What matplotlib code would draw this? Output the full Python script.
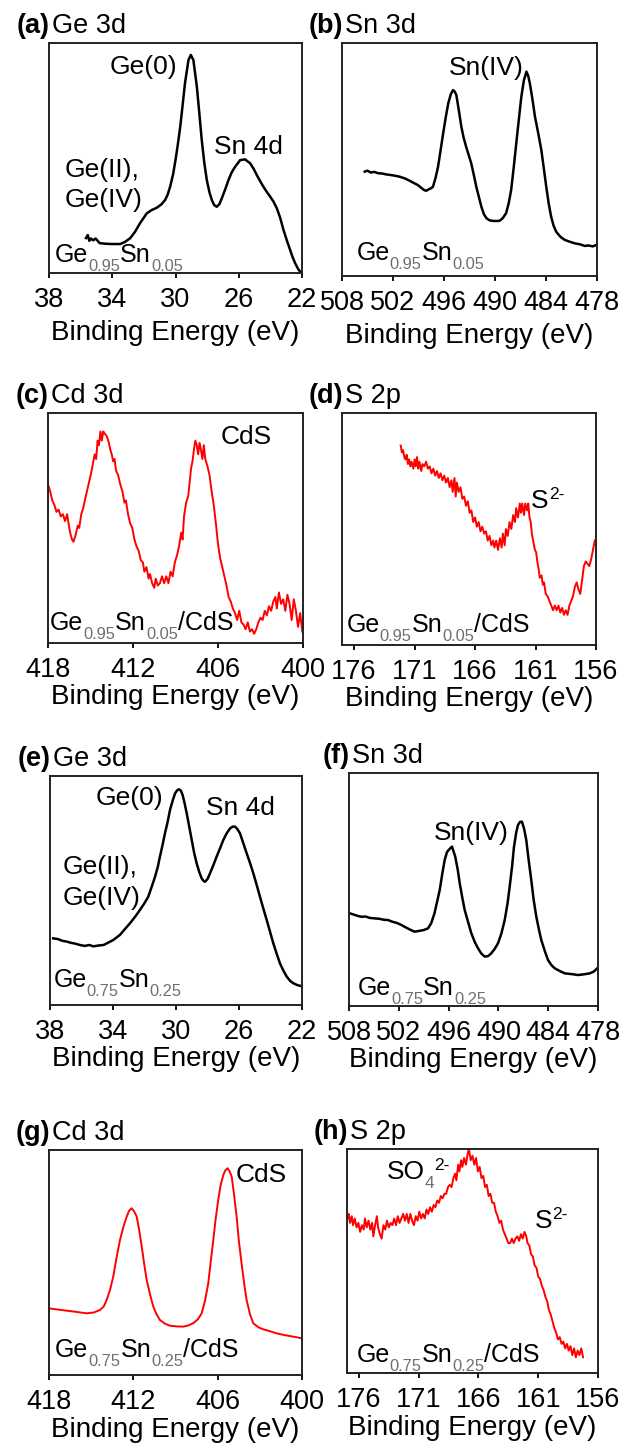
import matplotlib
matplotlib.use("Agg")
import matplotlib.pyplot as plt
import matplotlib.transforms as mtransforms

plt.rcParams['font.family'] = ['Liberation Sans', 'DejaVu Sans']

# XPS spectra: binding energy (eV) and normalised intensity (fraction of the frame height)
a_be = [35.66, 35.55, 35.45, 35.35, 35.2, 35.05, 34.8, 34.4, 34.0, 33.5, 33.2, 32.87, 32.55, 32.24,
        31.82, 31.5, 31.2, 30.9, 30.66, 30.5, 30.34, 30.15, 30.0, 29.85, 29.7, 29.55, 29.4, 29.18,
        29.03, 28.87, 28.65, 28.5, 28.34, 28.18, 28.02, 27.85, 27.7, 27.55, 27.39, 27.22, 27.07,
        26.85, 26.65, 26.45, 26.23, 25.91, 25.6, 25.28, 25.05, 24.86, 24.65, 24.44, 24.22, 24.01,
        23.8, 23.59, 23.38, 23.17, 22.95, 22.75, 22.6, 22.43, 22.25, 22.05]
a_int = [0.152, 0.165, 0.14, 0.15, 0.142, 0.15, 0.13, 0.127, 0.126, 0.126, 0.135, 0.151, 0.18, 0.217,
         0.259, 0.274, 0.283, 0.298, 0.317, 0.34, 0.375, 0.43, 0.491, 0.56, 0.636, 0.73, 0.825, 0.926,
         0.948, 0.926, 0.81, 0.70, 0.578, 0.48, 0.404, 0.35, 0.317, 0.295, 0.288, 0.30, 0.325,
         0.365, 0.404, 0.437, 0.462, 0.491, 0.494, 0.477, 0.452, 0.426, 0.40, 0.375, 0.352, 0.332,
         0.31, 0.281, 0.24, 0.187, 0.14, 0.10, 0.07, 0.042, 0.018, 0.0]

b_be = [505.33, 505.0, 504.6, 504.2, 503.76, 503.3, 502.8, 502.2, 501.7, 501.2, 500.62, 500.1, 499.6,
        499.06, 498.6, 498.3, 498.08, 497.8, 497.55, 497.3, 497.0, 496.7, 496.4, 496.1, 495.8, 495.5,
        495.2, 494.94, 494.75, 494.55, 494.25, 493.96, 493.7, 493.4, 493.1, 492.8, 492.5, 492.2,
        491.9, 491.6, 491.3, 491.0, 490.7, 490.4, 489.9, 489.45, 489.1, 488.7, 488.4, 488.1, 487.8,
        487.5, 487.2, 486.9, 486.6, 486.3, 486.1, 485.9, 485.6, 485.3, 484.9, 484.55, 484.25, 483.97,
        483.7, 483.4, 483.1, 482.8, 482.3, 481.8, 481.2, 480.6, 480.0, 479.45, 479.0, 478.5, 478.1]
b_int = [0.448, 0.452, 0.444, 0.447, 0.441, 0.440, 0.436, 0.433, 0.430, 0.426, 0.419, 0.41, 0.40,
         0.39, 0.376, 0.368, 0.366, 0.372, 0.376, 0.383, 0.42, 0.469, 0.54, 0.612, 0.68, 0.741,
         0.78, 0.798, 0.792, 0.777, 0.71, 0.641, 0.595, 0.555, 0.52, 0.484, 0.435, 0.383,
         0.34, 0.297, 0.265, 0.248, 0.24, 0.237, 0.236, 0.237, 0.248, 0.269, 0.31, 0.369, 0.465,
         0.569, 0.67, 0.77, 0.84, 0.877, 0.86, 0.827, 0.76, 0.684, 0.61, 0.541, 0.46, 0.383,
         0.315, 0.255, 0.215, 0.19, 0.168, 0.155, 0.147, 0.14, 0.136, 0.129, 0.131, 0.127, 0.133]

c_be = [418.0, 417.85, 417.7, 417.55, 417.4, 417.25, 417.1, 416.95, 416.8, 416.65, 416.5, 416.4, 416.3,
        416.2, 416.05, 415.9, 415.8, 415.65, 415.5, 415.4, 415.25, 415.1, 414.95, 414.8, 414.7, 414.6,
        414.5, 414.4, 414.3, 414.2, 414.1, 414.0, 413.85, 413.7, 413.6, 413.5, 413.4, 413.3, 413.2,
        413.05, 412.9, 412.75, 412.6, 412.5, 412.35, 412.2, 412.05, 411.9, 411.75, 411.6, 411.45,
        411.3, 411.2, 411.05, 410.9, 410.8, 410.65, 410.5, 410.4, 410.25, 410.1, 409.95, 409.8,
        409.65, 409.5, 409.35, 409.2, 409.05, 408.9, 408.75, 408.6, 408.5, 408.4, 408.25, 408.1,
        408.0, 407.9, 407.8, 407.7, 407.6, 407.5, 407.4, 407.3, 407.2, 407.1, 407.0, 406.9, 406.75,
        406.6, 406.45, 406.3, 406.15, 406.0, 405.85, 405.7, 405.55, 405.4, 405.25, 405.1, 404.95,
        404.8, 404.65, 404.5, 404.35, 404.2, 404.05, 403.9, 403.75, 403.6, 403.45, 403.3, 403.15,
        403.0, 402.85, 402.7, 402.55, 402.4, 402.25, 402.1, 401.95, 401.85, 401.7, 401.55, 401.4,
        401.25, 401.1, 400.95, 400.8, 400.65, 400.5, 400.35, 400.2, 400.05]
c_int = [0.69, 0.66, 0.62, 0.60, 0.57, 0.58, 0.55, 0.56, 0.53, 0.56, 0.50, 0.47, 0.45,
         0.44, 0.47, 0.51, 0.50, 0.56, 0.59, 0.62, 0.66, 0.70, 0.74, 0.79, 0.82, 0.80,
         0.88, 0.86, 0.92, 0.88, 0.92, 0.91, 0.90, 0.87, 0.84, 0.82, 0.79, 0.80, 0.75,
         0.73, 0.69, 0.66, 0.61, 0.62, 0.56, 0.52, 0.50, 0.45, 0.42, 0.40, 0.36,
         0.35, 0.31, 0.33, 0.28, 0.30, 0.26, 0.24, 0.28, 0.25, 0.26, 0.29, 0.26,
         0.29, 0.26, 0.31, 0.29, 0.35, 0.38, 0.42, 0.48, 0.45, 0.55, 0.61, 0.64,
         0.70, 0.76, 0.79, 0.84, 0.88, 0.86, 0.82, 0.87, 0.84, 0.80, 0.86, 0.80, 0.77,
         0.73, 0.66, 0.60, 0.52, 0.43, 0.37, 0.33, 0.29, 0.25, 0.20, 0.18, 0.15,
         0.13, 0.10, 0.14, 0.09, 0.08, 0.06, 0.09, 0.05, 0.06, 0.04, 0.06, 0.09,
         0.11, 0.10, 0.14, 0.12, 0.16, 0.14, 0.18, 0.20, 0.15, 0.22, 0.17, 0.19,
         0.14, 0.21, 0.17, 0.10, 0.19, 0.14, 0.07, 0.13, 0.05]

d_be = [172.15, 172.05, 171.95, 171.85, 171.75, 171.65, 171.55, 171.45, 171.35, 171.25, 171.1, 171.0,
        170.9, 170.8, 170.7, 170.6, 170.45, 170.35, 170.2, 170.05, 169.9, 169.75, 169.6, 169.45,
        169.3, 169.15, 169.0, 168.85, 168.7, 168.55, 168.4, 168.25, 168.1, 167.95, 167.85, 167.7,
        167.6, 167.5, 167.35, 167.2, 167.05, 166.9, 166.75, 166.6, 166.45, 166.3, 166.15, 166.0,
        165.85, 165.7, 165.55, 165.4, 165.25, 165.1, 164.95, 164.8, 164.65, 164.5, 164.4, 164.25,
        164.1, 163.95, 163.8, 163.7, 163.55, 163.45, 163.3, 163.15, 163.0, 162.85, 162.7, 162.6,
        162.45, 162.3, 162.2, 162.1, 161.95, 161.85, 161.7, 161.6, 161.5, 161.4, 161.3, 161.2,
        161.05, 160.95, 160.85, 160.75, 160.65, 160.5, 160.4, 160.3, 160.15, 160.0, 159.85, 159.7,
        159.55, 159.4, 159.25, 159.1, 158.95, 158.8, 158.65, 158.5, 158.35, 158.2, 158.05, 157.9,
        157.75, 157.6, 157.45, 157.3, 157.15, 157.0, 156.85, 156.7, 156.55, 156.4, 156.25, 156.1]
d_int = [0.86, 0.83, 0.84, 0.81, 0.80, 0.82, 0.78, 0.80, 0.77, 0.79, 0.76, 0.80,
         0.77, 0.81, 0.76, 0.79, 0.75, 0.78, 0.77, 0.79, 0.76, 0.77, 0.74, 0.76,
         0.73, 0.75, 0.72, 0.74, 0.71, 0.73, 0.70, 0.72, 0.68, 0.71, 0.66, 0.72,
         0.64, 0.70, 0.66, 0.68, 0.63, 0.64, 0.60, 0.62, 0.57, 0.58, 0.53, 0.55,
         0.51, 0.53, 0.49, 0.51, 0.48, 0.49, 0.45, 0.47, 0.43, 0.45, 0.42, 0.45,
         0.41, 0.46, 0.42, 0.48, 0.43, 0.50, 0.47, 0.53, 0.50, 0.56, 0.53, 0.59,
         0.55, 0.61, 0.57, 0.61, 0.56, 0.61, 0.58, 0.61, 0.55, 0.53, 0.48, 0.45,
         0.41, 0.40, 0.36, 0.33, 0.29, 0.30, 0.26, 0.27, 0.22, 0.21, 0.19, 0.17,
         0.15, 0.17, 0.15, 0.17, 0.14, 0.16, 0.13, 0.15, 0.13, 0.17, 0.19, 0.21,
         0.25, 0.27, 0.24, 0.22, 0.28, 0.34, 0.36, 0.35, 0.34, 0.37, 0.41, 0.45]

e_be = [37.8, 37.5, 37.2, 36.94, 36.7, 36.4, 36.1, 35.8, 35.5, 35.25, 34.9, 34.6, 34.4, 34.0, 33.56,
        33.2, 32.92, 32.6, 32.29, 32.0, 31.76, 31.55, 31.33, 31.15, 31.02, 30.85, 30.7, 30.53, 30.38,
        30.2, 30.06, 29.92, 29.81, 29.68, 29.58, 29.45, 29.32, 29.15, 29.0, 28.85, 28.69, 28.52,
        28.37, 28.25, 28.16, 28.0, 27.84, 27.62, 27.42, 27.2, 27.0, 26.78, 26.57, 26.4, 26.25, 26.1,
        25.94, 25.72, 25.51, 25.3, 25.09, 24.88, 24.67, 24.45, 24.24, 24.03, 23.82, 23.6, 23.4,
        23.18, 22.97, 22.75, 22.55, 22.3, 22.08]
e_int = [0.291, 0.288, 0.280, 0.277, 0.272, 0.268, 0.262, 0.258, 0.262, 0.256, 0.260, 0.262, 0.269,
         0.283, 0.306, 0.335, 0.357, 0.385, 0.415, 0.445, 0.473, 0.515, 0.56, 0.605, 0.648, 0.70,
         0.75, 0.80, 0.852, 0.895, 0.924, 0.938, 0.942, 0.935, 0.917, 0.88, 0.837, 0.775, 0.72,
         0.665, 0.619, 0.58, 0.553, 0.542, 0.538, 0.550, 0.575, 0.612, 0.648, 0.685, 0.72, 0.75,
         0.771, 0.779, 0.779, 0.768, 0.75, 0.705, 0.662, 0.62, 0.575, 0.525, 0.473, 0.42, 0.371,
         0.32, 0.269, 0.222, 0.182, 0.15, 0.124, 0.105, 0.095, 0.087, 0.083]

f_be = [507.92, 507.4, 506.9, 506.5, 506.0, 505.5, 504.9, 504.3, 503.8, 503.3, 502.8, 502.2, 501.7,
        501.2, 500.6, 500.1, 499.6, 499.0, 498.48, 498.1, 497.7, 497.4, 497.07, 496.75, 496.47,
        496.2, 495.99, 495.59, 495.2, 494.9, 494.66, 494.35, 494.06, 493.65, 493.26, 492.85, 492.46,
        492.05, 491.65, 491.25, 490.86, 490.45, 490.05, 489.65, 489.24, 488.9, 488.64, 488.35,
        488.12, 487.85, 487.64, 487.4, 487.16, 486.9, 486.64, 486.35, 486.04, 485.75, 485.43,
        485.1, 484.83, 484.4, 484.02, 483.6, 483.22, 482.6, 482.0, 481.2, 480.4, 479.7, 479.0,
        478.5, 478.08]
f_int = [0.398, 0.392, 0.386, 0.383, 0.384, 0.378, 0.376, 0.374, 0.37, 0.369, 0.362, 0.356, 0.348,
         0.338, 0.327, 0.319, 0.322, 0.326, 0.333, 0.355, 0.398, 0.445, 0.498, 0.57, 0.627,
         0.66, 0.67, 0.684, 0.641, 0.585, 0.527, 0.465, 0.412, 0.36, 0.312, 0.275, 0.248,
         0.225, 0.212, 0.214, 0.226, 0.245, 0.269, 0.31, 0.369, 0.44, 0.512, 0.60,
         0.684, 0.745, 0.777, 0.79, 0.791, 0.76, 0.712, 0.625, 0.541, 0.455, 0.383,
         0.325, 0.283, 0.235, 0.197, 0.175, 0.162, 0.15, 0.14, 0.137, 0.133, 0.136, 0.14,
         0.148, 0.162]

g_be = [417.98, 417.4, 416.74, 416.0, 415.32, 414.8, 414.37, 414.1, 413.9, 413.65, 413.43, 413.2,
        412.95, 412.7, 412.47, 412.3, 412.12, 411.95, 411.76, 411.6, 411.4, 411.22, 411.05, 410.8,
        410.58, 410.35, 410.1, 409.75, 409.4, 408.9, 408.45, 408.1, 407.74, 407.4, 407.14, 406.9,
        406.67, 406.5, 406.31, 406.15, 405.96, 405.8, 405.6, 405.45, 405.29, 405.15, 405.0, 404.85,
        404.65, 404.5, 404.3, 404.1, 403.94, 403.7, 403.47, 403.1, 402.76, 402.3, 401.8, 401.3,
        400.86, 400.4, 400.03]
g_int = [0.296, 0.291, 0.286, 0.28, 0.274, 0.278, 0.289, 0.305, 0.333, 0.38, 0.437, 0.52,
         0.60, 0.66, 0.704, 0.73, 0.741, 0.728, 0.704, 0.65, 0.57, 0.49, 0.422, 0.355,
         0.304, 0.27, 0.244, 0.228, 0.219, 0.216, 0.215, 0.22, 0.23, 0.248, 0.274, 0.33,
         0.407, 0.50, 0.60, 0.69, 0.778, 0.84, 0.889, 0.91, 0.919, 0.905, 0.881, 0.81,
         0.704, 0.60, 0.496, 0.40, 0.333, 0.27, 0.23, 0.212, 0.203, 0.195, 0.185, 0.178,
         0.173, 0.168, 0.163]

h_be = [176.95, 176.85, 176.75, 176.6, 176.5, 176.35, 176.2, 176.05, 175.9, 175.75, 175.6, 175.5,
        175.35, 175.2, 175.05, 174.9, 174.8, 174.65, 174.5, 174.4, 174.25, 174.1, 173.95, 173.8,
        173.65, 173.5, 173.35, 173.2, 173.05, 172.9, 172.75, 172.6, 172.45, 172.3, 172.15, 172.0,
        171.85, 171.7, 171.55, 171.4, 171.25, 171.1, 170.95, 170.8, 170.65, 170.5, 170.35, 170.2,
        170.05, 169.9, 169.75, 169.6, 169.45, 169.3, 169.15, 169.0, 168.85, 168.7, 168.55, 168.4,
        168.25, 168.1, 167.95, 167.85, 167.7, 167.6, 167.45, 167.35, 167.2, 167.05, 166.9, 166.8,
        166.65, 166.5, 166.35, 166.2, 166.05, 165.9, 165.75, 165.6, 165.45, 165.3, 165.15, 165.0,
        164.85, 164.7, 164.55, 164.4, 164.25, 164.1, 163.95, 163.8, 163.65, 163.5, 163.35, 163.2,
        163.05, 162.9, 162.75, 162.6, 162.45, 162.3, 162.15, 162.0, 161.9, 161.75, 161.6, 161.45,
        161.3, 161.15, 161.0, 160.85, 160.7, 160.55, 160.4, 160.25, 160.1, 159.95, 159.8, 159.65,
        159.5, 159.35, 159.2, 159.05, 158.9, 158.75, 158.6, 158.45, 158.3, 158.15, 158.0, 157.85,
        157.7, 157.55, 157.4, 157.25]
h_int = [0.69, 0.71, 0.67, 0.70, 0.66, 0.69, 0.65, 0.67, 0.63, 0.66, 0.64, 0.69,
         0.65, 0.68, 0.64, 0.67, 0.61, 0.66, 0.70, 0.65, 0.62, 0.60, 0.66, 0.64,
         0.68, 0.65, 0.67, 0.66, 0.69, 0.66, 0.70, 0.67, 0.69, 0.71, 0.68, 0.71,
         0.67, 0.71, 0.68, 0.66, 0.70, 0.68, 0.72, 0.69, 0.71, 0.69, 0.73, 0.71,
         0.74, 0.72, 0.75, 0.74, 0.77, 0.76, 0.79, 0.78, 0.80, 0.80, 0.83, 0.84,
         0.83, 0.87, 0.89, 0.86, 0.93, 0.90, 0.95, 0.92, 0.96, 0.93, 0.98, 1.0,
         0.95, 0.97, 0.93, 0.96, 0.90, 0.92, 0.87, 0.88, 0.83, 0.84, 0.79, 0.80,
         0.76, 0.76, 0.72, 0.70, 0.67, 0.68, 0.64, 0.62, 0.60, 0.58, 0.58, 0.60,
         0.58, 0.60, 0.61, 0.59, 0.62, 0.60, 0.63, 0.61, 0.58, 0.57, 0.53, 0.52,
         0.48, 0.47, 0.43, 0.42, 0.39, 0.37, 0.34, 0.32, 0.28, 0.26, 0.23, 0.20,
         0.18, 0.15, 0.16, 0.13, 0.14, 0.11, 0.13, 0.10, 0.12, 0.08, 0.11, 0.07,
         0.10, 0.08, 0.11, 0.07]

panel_tags = ['(a)', '(b)', '(c)', '(d)', '(e)', '(f)', '(g)', '(h)']
core_levels = ['Ge 3d', 'Sn 3d', 'Cd 3d', 'S 2p', 'Ge 3d', 'Sn 3d', 'Cd 3d', 'S 2p']
xlims = [(38, 22), (508, 478), (418, 400), (177, 156),
         (38, 22), (508, 478), (418, 400), (177, 156)]
xticks = [[38, 34, 30, 26, 22], [508, 502, 496, 490, 484, 478], [418, 412, 406, 400],
          [176, 171, 166, 161, 156], [38, 34, 30, 26, 22], [508, 502, 496, 490, 484, 478],
          [418, 412, 406, 400], [176, 171, 166, 161, 156]]
spectra = [(a_be, a_int), (b_be, b_int), (c_be, c_int), (d_be, d_int),
           (e_be, e_int), (f_be, f_int), (g_be, g_int), (h_be, h_int)]
line_colors = ['black', 'black', 'red', 'red', 'black', 'black', 'red', 'red']

film_05 = [('Ge', 'n'), ('0.95', 'sub'), ('Sn', 'n'), ('0.05', 'sub')]
film_25 = [('Ge', 'n'), ('0.75', 'sub'), ('Sn', 'n'), ('0.25', 'sub')]
samples = [film_05, film_05, film_05 + [('/CdS', 'n')], film_05 + [('/CdS', 'n')],
           film_25, film_25, film_25 + [('/CdS', 'n')], film_25 + [('/CdS', 'n')]]
sample_pos = [(0.024, 0.049), (0.056, 0.069), (0.008, 0.057), (0.017, 0.057),
              (0.013, 0.080), (0.036, 0.047), (0.024, 0.081), (0.037, 0.050)]

# plain peak labels: (panel, text, x, y, ha) in axes fraction
peak_labels = [
    (0, 'Ge(0)', 0.372, 0.897, 'center'), (0, 'Sn 4d', 0.787, 0.549, 'center'),
    (0, 'Ge(II),', 0.063, 0.448, 'left'), (0, 'Ge(IV)', 0.063, 0.317, 'left'),
    (1, 'Sn(IV)', 0.566, 0.891, 'center'),
    (2, 'CdS', 0.779, 0.897, 'center'),
    (4, 'Ge(0)', 0.317, 0.903, 'center'), (4, 'Sn 4d', 0.754, 0.859, 'center'),
    (4, 'Ge(II),', 0.05, 0.604, 'left'), (4, 'Ge(IV)', 0.05, 0.466, 'left'),
    (5, 'Sn(IV)', 0.491, 0.741, 'center'),
    (6, 'CdS', 0.84, 0.889, 'center'),
]
# ion labels with sub/superscripts: (panel, parts, x, baseline y)
ion_labels = [
    (3, [('S', 'n'), ('2-', 'sup')], 0.745, 0.589),
    (7, [('SO', 'n'), ('4', 'sub'), ('2-', 'sup')], 0.157, 0.865),
    (7, [('S', 'n'), ('2-', 'sup')], 0.748, 0.646),
]

# frame corners in pixels: left, top, right, bottom
frames = [(49, 43, 302, 273), (342, 43, 597, 276),
          (48, 413, 303, 643), (342, 413, 596, 645),
          (50, 776, 302, 1005), (349, 773, 598, 1006),
          (49, 1150, 302, 1375), (347, 1149, 598, 1373)]
label_pads = [5.4, 5.4, 0.8, 0.8, 1.0, 1.0, 1.8, 1.8]

W, H = 638, 1446
fig = plt.figure(figsize=(W / 100, H / 100), dpi=100)
renderer = fig.canvas.get_renderer()


def rich_text(ax, x, y, parts, size=18.5):
    dx = 0.0
    for s, kind in parts:
        fs = size if kind == 'n' else size * 0.66
        col = '#707070' if kind == 'sub' else 'black'
        dy = {'n': 0, 'sub': -9, 'sup': 9}[kind]
        tr = mtransforms.offset_copy(ax.transAxes, fig=fig, x=dx, y=dy, units='dots')
        t = ax.text(x, y, s, transform=tr, fontsize=fs, color=col, va='baseline', ha='left')
        dx += t.get_window_extent(renderer).width


axes = []
for i, (l, t, r, b) in enumerate(frames):
    ax = fig.add_axes([l / W, 1 - b / H, (r - l) / W, (b - t) / H])
    be, inten = spectra[i]
    lw = 1.8 if line_colors[i] == 'black' else 1.4
    ax.plot(be, inten, color=line_colors[i], lw=lw)
    ax.set_xlim(*xlims[i])
    ax.set_ylim(0, 1)
    ax.set_xticks(xticks[i])
    ax.set_yticks([])
    ax.tick_params(axis='x', direction='out', length=3.5, width=1.3, pad=6.5, labelsize=19.5)
    for sp in ax.spines.values():
        sp.set_linewidth(1.4)
        sp.set_color('#222222')
    ax.set_xlabel('Binding Energy (eV)', fontsize=20, labelpad=label_pads[i])

    # panel tag and core level above the frame
    tr_tag = mtransforms.offset_copy(ax.transAxes, fig=fig, x=1, y=17, units='dots')
    ax.text(0, 1, panel_tags[i], transform=tr_tag, fontsize=19.5, fontweight='bold',
            ha='right', va='center')
    tr_name = mtransforms.offset_copy(ax.transAxes, fig=fig, x=3, y=17, units='dots')
    ax.text(0, 1, core_levels[i], transform=tr_name, fontsize=19.5, ha='left', va='center')

    rich_text(ax, sample_pos[i][0], sample_pos[i][1], samples[i], size=18)
    axes.append(ax)

for p, s, x, y, ha in peak_labels:
    axes[p].text(x, y, s, transform=axes[p].transAxes, fontsize=19, ha=ha, va='center')

for p, parts, x, y in ion_labels:
    rich_text(axes[p], x, y, parts, size=19)

fig.savefig('out.png', dpi=100)
